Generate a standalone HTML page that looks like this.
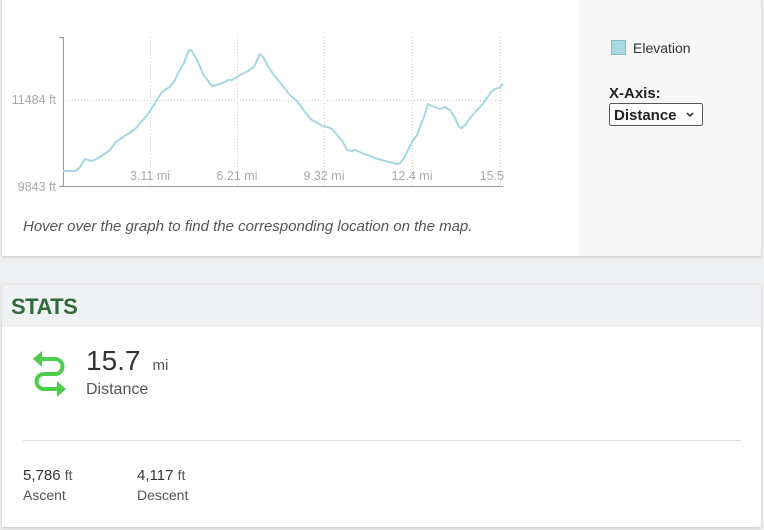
<!DOCTYPE html>
<html><head><style>
body{margin:0;width:764px;height:530px;background:#eff0f1;font-family:"Liberation Sans",sans-serif;position:relative;overflow:hidden}
.card{position:absolute;left:2px;width:759px;background:#fff;box-shadow:0 1px 3px rgba(0,0,0,.18)}
.t{position:absolute;white-space:nowrap}
</style></head><body>
<div class="card" style="top:-2px;height:258px">
  <div style="position:absolute;left:577px;top:0;width:182px;height:258px;background:#f7f7f8"></div>
</div>
<svg style="position:absolute;left:0;top:0" width="764" height="258">
  <g stroke="#ccc" stroke-dasharray="1,2" stroke-width="1">
    <line x1="63" y1="100.5" x2="503" y2="100.5"/>
    <line x1="150.5" y1="37" x2="150.5" y2="186"/>
    <line x1="237.5" y1="37" x2="237.5" y2="186"/>
    <line x1="324.5" y1="37" x2="324.5" y2="186"/>
    <line x1="412.5" y1="37" x2="412.5" y2="186"/>
    <line x1="500.5" y1="37" x2="500.5" y2="186"/>
  </g>
  <g stroke="#999" stroke-width="1" fill="none">
    <path d="M59,37.5H63.5V186.5H503"/>
    <path d="M59,186.5H63"/>
  </g>
  <g font-family="Liberation Sans" font-size="12.5" fill="#aaa">
    <text x="56" y="104" text-anchor="end">11484 ft</text>
    <text x="56" y="191" text-anchor="end">9843 ft</text>
    <text x="150" y="180" text-anchor="middle">3.11 mi</text>
    <text x="237" y="180" text-anchor="middle">6.21 mi</text>
    <text x="324" y="180" text-anchor="middle">9.32 mi</text>
    <text x="412" y="180" text-anchor="middle">12.4 mi</text>
    <text x="504" y="180" text-anchor="end">15.5</text>
  </g>
  <polyline fill="none" stroke="#a6d8e2" stroke-width="2" stroke-linejoin="round" points="63,171 70,171 76,171 80,167 85,159 88,160 92,161 100,157 110,150 115,143 120,139 128,134 135,129 142,121 148,114 155,103 162,92 166,89 170,87 175,80 178,73 184,63 189,50 192,51 198,62 203,74 212,86 220,84 225,82 228,80 232,80 240,75 248,71 254,67 258,58 260,54 263,57 268,66 273,74 282,85 290,95 297,101 302,108 308,116 312,120 318,123 322,126 328,127 332,129 338,136 343,142 347,150 352,151 355,150 362,153 370,156 378,159 385,161 393,163 397,164 400,163 404,158 408,150 412,142 417,135 420,127 424,117 428,104 432,106 440,109 445,107 450,110 455,118 459,127 462,128 466,124 470,118 476,111 482,105 487,98 491,92 495,89 499,88 503,84"/>
  <text x="23" y="231" font-size="15" font-style="italic" fill="#555" font-family="Liberation Sans">Hover over the graph to find the corresponding location on the map.</text>
  <rect x="611.5" y="40.5" width="14" height="14" fill="#a6d8e2" stroke="#8bbcc6"/>
  <text x="633" y="53" font-size="14" fill="#333" font-family="Liberation Sans">Elevation</text>
  <text x="609" y="98" font-size="15" font-weight="bold" fill="#222" font-family="Liberation Sans">X-Axis:</text>
  <rect x="609.5" y="103.5" width="93" height="22" rx="2" fill="#fff" stroke="#555"/>
  <text x="614" y="120" font-size="15" font-weight="bold" fill="#222" font-family="Liberation Sans">Distance</text>
  <path d="M687,113l3,3l3,-3" stroke="#222" stroke-width="1.5" fill="none"/>
</svg>
<div class="card" style="top:285px;height:242px">
  <div style="position:absolute;left:0;top:0;width:759px;height:42px;background:#f0f1f2"></div>
  <div class="t" style="left:9px;top:9px;font-size:22px;font-weight:bold;color:#2f6b3a;letter-spacing:-0.5px">STATS</div>
  <svg style="position:absolute;left:28px;top:66px" width="40" height="48">
    <g stroke="#4ccd4c" stroke-width="4" fill="none" stroke-linecap="butt">
      <path d="M10,8H25a7.5,7.5 0 0 1 0,15H14a7.5,7.5 0 0 0 0,15H27"/>
    </g>
    <path d="M3,8L12,0V16Z" fill="#4ccd4c"/>
    <path d="M36,38L27,30V46Z" fill="#4ccd4c"/>
  </svg>
  <div class="t" style="left:84px;top:60px;font-size:28px;color:#333">15.7 <span style="font-size:15px;color:#555">&nbsp;mi</span></div>
  <div class="t" style="left:84px;top:96px;font-size:16px;color:#555">Distance</div>
  <div style="position:absolute;left:21px;top:155px;width:718px;height:1px;background:#ddd"></div>
  <div class="t" style="left:21px;top:182px;font-size:15px;color:#333">5,786 <span style="font-size:14px;color:#555">ft</span></div>
  <div class="t" style="left:21px;top:202px;font-size:14px;color:#555">Ascent</div>
  <div class="t" style="left:135px;top:182px;font-size:15px;color:#333">4,117 <span style="font-size:14px;color:#555">ft</span></div>
  <div class="t" style="left:135px;top:202px;font-size:14px;color:#555">Descent</div>
</div>
</body></html>
